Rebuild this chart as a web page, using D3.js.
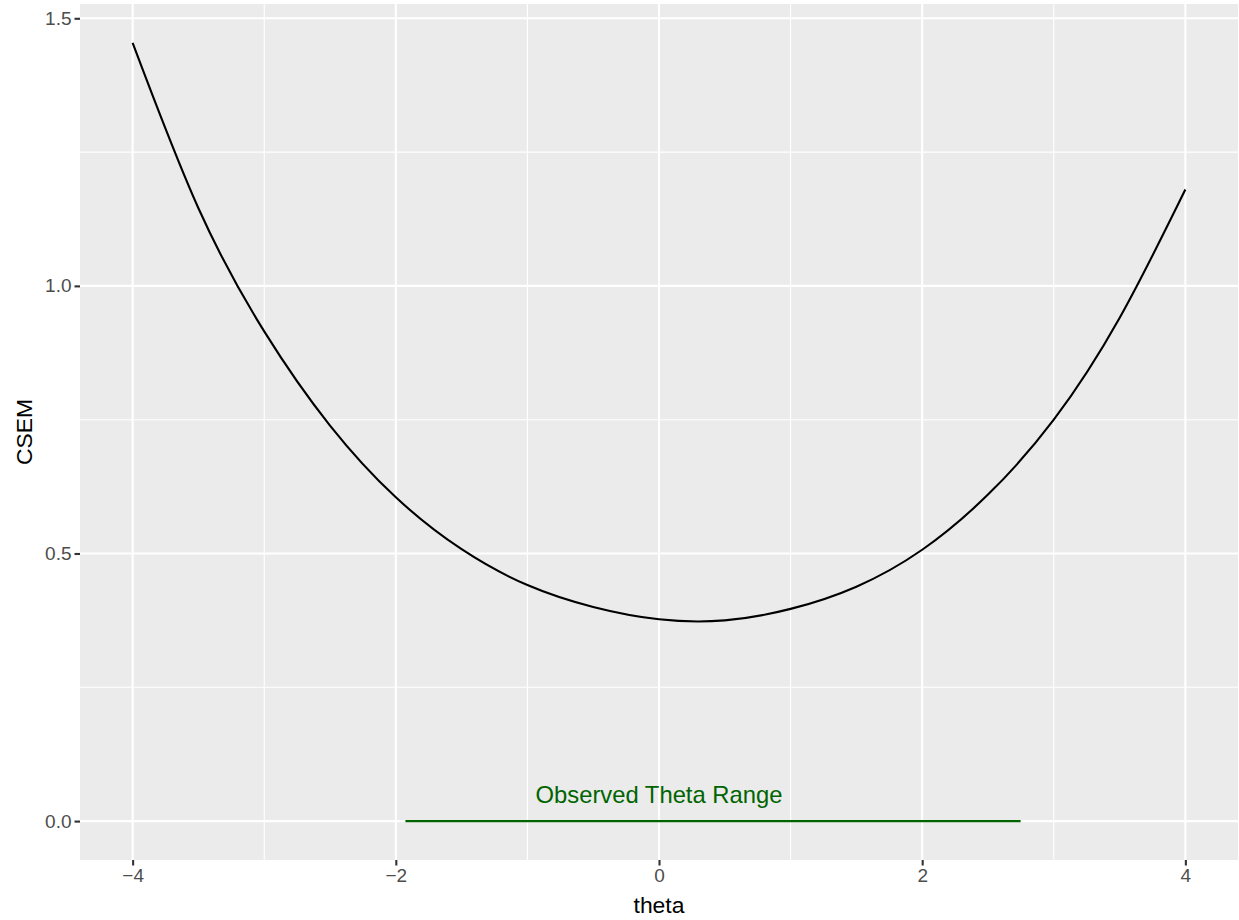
<!DOCTYPE html>
<html>
<head>
<meta charset="utf-8">
<script src="https://cdn.jsdelivr.net/npm/d3@7"></script>
<style>
  html, body { margin: 0; padding: 0; background: #ffffff; }
  svg { display: block; }
  text { font-family: "Liberation Sans", Arial, sans-serif; }
</style>
</head>
<body>
<svg id="chart" width="1239" height="920"></svg>
<script>
// ---- data ----
const theta = [-4, -3.5, -3, -2.5, -2, -1.5, -1, -0.5, 0, 0.5, 1, 1.5, 2, 2.5, 3, 3.5, 4];
const csem  = [1.454, 1.145, 0.915, 0.739, 0.605, 0.508, 0.441, 0.400, 0.377, 0.375, 0.3965, 0.438, 0.507, 0.61, 0.75, 0.94, 1.18];
const observedRange = [-1.927, 2.748];
const observedLabel = "Observed Theta Range";
const xTicks = [-4, -2, 0, 2, 4];
const xMinor = [-3, -1, 1, 3];
const yTicks = [0, 0.5, 1.0, 1.5];
const yMinor = [0.25, 0.75, 1.25];
const xTitle = "theta";
const yTitle = "CSEM";

// ---- layout ----
const svg = d3.select("#chart");
const panel = { left: 80, right: 1238, top: 4, bottom: 860 };

const xMinD = d3.min(theta), xMaxD = d3.max(theta);
const xPad = (xMaxD - xMinD) * 0.05;
const yMinD = 0, yMaxD = d3.max(csem);
const yPad = (yMaxD - yMinD) * 0.05;

const x = d3.scaleLinear().domain([xMinD - xPad, xMaxD + xPad]).range([panel.left, panel.right]);
const y = d3.scaleLinear().domain([yMinD - yPad, yMaxD + yPad]).range([panel.bottom, panel.top]);

// panel background
svg.append("rect")
  .attr("x", panel.left).attr("y", panel.top)
  .attr("width", panel.right - panel.left).attr("height", panel.bottom - panel.top)
  .attr("fill", "#EBEBEB");

const grid = svg.append("g");
// minor grid
grid.selectAll(".xminor").data(xMinor).enter().append("line")
  .attr("x1", d => x(d)).attr("x2", d => x(d))
  .attr("y1", panel.top).attr("y2", panel.bottom)
  .attr("stroke", "#ffffff").attr("stroke-width", 1.1);
grid.selectAll(".yminor").data(yMinor).enter().append("line")
  .attr("y1", d => y(d)).attr("y2", d => y(d))
  .attr("x1", panel.left).attr("x2", panel.right)
  .attr("stroke", "#ffffff").attr("stroke-width", 1.1);
// major grid
grid.selectAll(".xmajor").data(xTicks).enter().append("line")
  .attr("x1", d => x(d)).attr("x2", d => x(d))
  .attr("y1", panel.top).attr("y2", panel.bottom)
  .attr("stroke", "#ffffff").attr("stroke-width", 2.1);
grid.selectAll(".ymajor").data(yTicks).enter().append("line")
  .attr("y1", d => y(d)).attr("y2", d => y(d))
  .attr("x1", panel.left).attr("x2", panel.right)
  .attr("stroke", "#ffffff").attr("stroke-width", 2.1);

// CSEM curve
const line = d3.line()
  .x((d, i) => x(theta[i]))
  .y(d => y(d))
  .curve(d3.curveNatural);
svg.append("path")
  .datum(csem)
  .attr("d", line)
  .attr("fill", "none")
  .attr("stroke", "#000000")
  .attr("stroke-width", 2.1)
  .attr("stroke-linejoin", "round");

// observed range segment
svg.append("line")
  .attr("x1", x(observedRange[0])).attr("x2", x(observedRange[1]))
  .attr("y1", y(0)).attr("y2", y(0))
  .attr("stroke", "#006400").attr("stroke-width", 2.1);

svg.append("text")
  .attr("x", x(0)).attr("y", y(0.05))
  .attr("dy", "0.36em")
  .attr("text-anchor", "middle")
  .attr("font-size", "23.8px")
  .attr("fill", "#006400")
  .text(observedLabel);

// x axis
const xAxis = d3.axisBottom(x).tickValues(xTicks).tickSize(5.5).tickPadding(3)
  .tickFormat(d => d < 0 ? "\u2212" + Math.abs(d) : String(d));
const gx = svg.append("g").attr("transform", `translate(0,${panel.bottom})`).call(xAxis);
gx.select(".domain").remove();
gx.selectAll(".tick line").attr("stroke", "#333333").attr("stroke-width", 2.1);
gx.selectAll(".tick text").attr("fill", "#4D4D4D").attr("font-size", "19px")
  .attr("font-family", "Liberation Sans, Arial, sans-serif");

// y axis
const yAxis = d3.axisLeft(y).tickValues(yTicks).tickSize(5.5).tickPadding(3)
  .tickFormat(d3.format(".1f"));
const gy = svg.append("g").attr("transform", `translate(${panel.left},0)`).call(yAxis);
gy.select(".domain").remove();
gy.selectAll(".tick line").attr("stroke", "#333333").attr("stroke-width", 2.1);
gy.selectAll(".tick text").attr("fill", "#4D4D4D").attr("font-size", "19px")
  .attr("font-family", "Liberation Sans, Arial, sans-serif");

// axis titles
svg.append("text")
  .attr("x", (panel.left + panel.right) / 2).attr("y", 913)
  .attr("text-anchor", "middle")
  .attr("font-size", "22.9px")
  .attr("fill", "#000000")
  .text(xTitle);

svg.append("text")
  .attr("transform", `translate(32,${(panel.top + panel.bottom) / 2}) rotate(-90)`)
  .attr("text-anchor", "middle")
  .attr("font-size", "22.9px")
  .attr("fill", "#000000")
  .text(yTitle);
</script>
</body>
</html>
